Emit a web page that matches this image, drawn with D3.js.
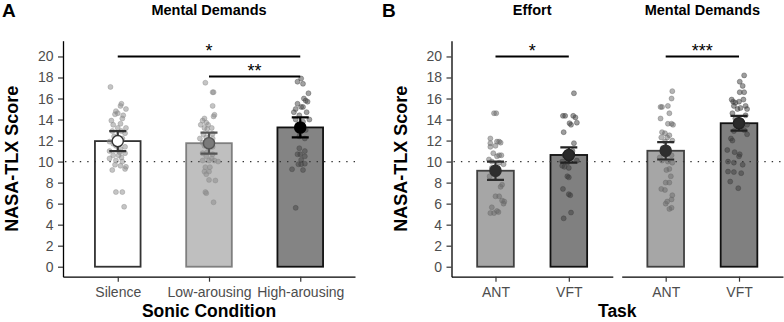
<!DOCTYPE html>
<meta charset="utf-8">
<style>
  body { margin: 0; background: #fff; }
  text { font-family: "Liberation Sans", Arial, sans-serif; }
</style>
<svg width="784" height="322"></svg>
<script src="https://cdn.jsdelivr.net/npm/d3@7"></script>
<script>

// ---- data ----
var soundConditions = ["Silence", "Low-arousing", "High-arousing"];
var soundMeans = [11.95, 11.75, 13.25];
var soundSE = [0.95, 1.0, 0.95];

var tasks = ["ANT", "VFT"];
var effortMeans = [9.13, 10.63];
var effortSE = [0.87, 0.73];
var mentalMeans = [11.03, 13.65];
var mentalSE = [0.83, 0.7];

var yTicks = [0, 2, 4, 6, 8, 10, 12, 14, 16, 18, 20];
var chanceLevel = 10;

// single participants: [score, jitter in category steps]
var silencePts = [[17.1,-0.08],[15.5,0.04],[15.3,0.03],[15.0,0.09],[14.8,-0.02],[14.6,0.0],[14.5,-0.03],
  [14.4,0.06],[14.1,0.05],[13.9,-0.07],[13.6,0.03],[13.5,-0.05],[13.2,0.0],[13.2,0.09],[12.9,-0.06],
  [12.9,0.04],[12.7,0.08],[12.4,-0.04],[12.2,0.05],[11.9,-0.09],[11.7,-0.05],[11.5,-0.02],[11.4,0.08],
  [11.2,0.03],[11.0,-0.09],[10.9,0.02],[10.8,0.08],[10.6,-0.05],[10.6,0.01],[10.4,0.04],[10.3,-0.09],
  [10.1,-0.02],[10.0,0.05],[9.7,-0.03],[9.6,0.03],[9.5,0.09],[9.2,-0.06],[9.3,0.08],[7.1,-0.02],
  [7.1,0.05],[5.7,0.07]];
var lowPts = [[17.5,-0.04],[16.6,0.04],[16.6,0.05],[15.3,0.04],[14.45,0.06],[14.3,0.05],[14.1,-0.05],
  [13.9,-0.07],[13.7,-0.03],[13.5,-0.09],[13.5,-0.01],[13.2,-0.05],[13.1,-0.02],[13.2,0.03],[12.6,-0.06],
  [12.65,0.04],[12.3,-0.03],[12.2,0.04],[12.2,-0.10],[11.8,-0.01],[11.8,-0.07],[11.5,-0.05],[11.4,0.04],
  [10.9,-0.02],[10.8,-0.07],[10.7,0.04],[10.5,-0.03],[10.3,0.03],[10.1,-0.07],[10.1,0.0],[10.1,0.06],
  [10.0,0.10],[9.47,-0.04],[9.47,0.01],[9.05,-0.05],[9.05,0.0],[8.8,-0.03],[8.26,0.0],[8.2,0.07],
  [7.1,-0.04],[7.0,-0.03],[6.13,0.05]];
var highPts = [[17.9,0.01],[17.6,-0.03],[17.4,0.03],[16.5,0.09],[16.0,0.04],[15.8,0.06],[15.7,0.08],
  [15.5,-0.03],[15.2,0.01],[15.2,0.03],[15.0,-0.05],[14.7,-0.07],[14.7,0.07],[14.4,-0.01],[14.0,-0.05],
  [14.0,0.10],[13.8,0.03],[13.2,-0.03],[13.0,0.06],[12.4,-0.01],[12.2,0.05],[11.27,-0.01],[11.0,0.05],
  [10.7,-0.03],[10.7,0.0],[10.5,0.05],[10.16,0.01],[9.75,-0.02],[9.75,0.01],[9.8,0.05],[9.27,-0.09],
  [9.2,0.03],[5.6,-0.05]];

var effortAntPts = [[14.6,-0.02],[14.6,0.01],[12.2,-0.07],[11.9,0.02],[11.9,0.05],[11.8,0.07],[11.75,-0.07],
  [11.5,0.0],[11.4,-0.07],[10.8,-0.03],[10.6,0.05],[10.6,0.08],[10.5,0.02],[10.2,-0.09],[10.0,-0.05],
  [9.9,0.05],[9.75,0.11],[9.4,-0.05],[9.0,0.02],[8.6,-0.08],[7.8,0.09],[7.6,0.07],[6.7,0.0],[6.7,0.05],
  [6.3,0.09],[6.2,0.12],[6.0,0.11],[5.65,-0.05],[5.3,0.02],[5.1,-0.07],[5.1,-0.02],[5.2,0.04]];
var effortVftPts = [[16.5,0.07],[14.35,-0.08],[14.35,-0.05],[14.35,0.06],[14.2,0.09],[13.65,0.01],[13.5,0.03],
  [13.7,0.11],[12.8,-0.07],[11.75,0.07],[11.0,0.05],[10.8,-0.03],[10.6,-0.06],[10.4,0.03],[10.0,-0.09],
  [9.9,-0.02],[10.1,0.11],[9.6,-0.09],[9.5,-0.06],[9.4,0.0],[8.6,-0.02],[8.5,0.0],[7.4,-0.08],[6.9,0.0],
  [6.8,0.02],[5.15,0.03],[4.6,-0.07]];
var mentalAntPts = [[16.7,0.09],[16.0,0.08],[15.2,-0.07],[15.2,-0.05],[15.3,0.03],[14.1,-0.07],[14.6,0.05],
  [13.6,0.08],[13.5,0.1],[13.6,0.03],[12.8,-0.05],[12.7,-0.01],[12.5,0.05],[12.3,-0.06],[12.3,0.02],
  [11.9,-0.01],[12.0,0.09],[11.3,-0.04],[10.6,0.08],[10.4,-0.08],[10.1,-0.05],[10.0,0.03],[9.9,0.09],
  [9.3,0.05],[9.2,0.01],[8.6,0.07],[8.0,0.0],[8.0,0.05],[7.4,-0.06],[7.3,-0.01],[6.8,0.09],[6.2,0.02],
  [6.0,0.0],[6.4,0.08],[5.6,0.08],[5.5,0.05]];
var mentalVftPts = [[18.2,0.07],[17.6,0.01],[17.2,0.05],[16.6,0.01],[16.6,0.07],[15.9,-0.1],[15.7,-0.08],
  [15.6,-0.05],[15.7,0.0],[15.9,0.06],[15.3,0.09],[15.3,-0.07],[15.0,-0.02],[15.1,0.02],[15.0,0.11],
  [14.6,-0.09],[14.4,0.09],[14.1,-0.05],[13.5,0.11],[13.0,0.07],[12.9,-0.07],[12.6,0.11],[12.2,-0.11],
  [12.0,-0.09],[11.1,-0.16],[10.9,-0.06],[10.7,0.01],[10.5,0.0],[10.0,-0.15],[9.9,-0.07],[9.7,0.05],
  [9.05,-0.15],[9.0,-0.07],[8.9,0.03],[8.1,-0.12],[7.47,-0.01]];

var soundSig = [["Silence", "High-arousing", 20, "*"], ["Low-arousing", "High-arousing", 18.1, "**"]];
var effortSig = [["ANT", "VFT", 20, "*"]];
var mentalSig = [["ANT", "VFT", 20, "***"]];

// ---- looks ----
var soundLook = [
  {fill: "#ffffff", stroke: "#333333", pt: "#8a8a8a", mean: "#ffffff", err: "#333333"},
  {fill: "#bfbfbf", stroke: "#7f7f7f", pt: "#8a8a8a", mean: "#7a7a7a", err: "#555555"},
  {fill: "#848484", stroke: "#111111", pt: "#444444", mean: "#000000", err: "#000000"}];
var taskLook = [
  {fill: "#a6a6a6", stroke: "#404040", pt: "#6a6a6a", mean: "#2e2e2e", err: "#2e2e2e"},
  {fill: "#808080", stroke: "#111111", pt: "#3c3c3c", mean: "#2a2a2a", err: "#222222"}];

var svg = d3.select("svg");
var y = d3.scaleLinear().domain([-0.95, 21.5]).range([276.7, 40.7]);

function facet(x0, x1, cats, means, se, pts, sig, look, title, withY) {
  var x = d3.scalePoint().domain(cats).range([x0, x1]).padding(0.6);
  var step = x.step(), bw = step / 2;
  var g = svg.append("g");

  g.selectAll("rect").data(cats).join("rect")
      .attr("x", d => x(d) - bw / 2)
      .attr("width", bw)
      .attr("y", (d, i) => y(means[i]))
      .attr("height", (d, i) => y(0) - y(means[i]))
      .attr("fill", (d, i) => look[i].fill)
      .attr("stroke", (d, i) => look[i].stroke)
      .attr("stroke-width", 1.8);

  g.append("line")
      .attr("x1", x0 + 2).attr("x2", x1)
      .attr("y1", y(chanceLevel)).attr("y2", y(chanceLevel))
      .attr("stroke", "#333").attr("stroke-width", 1.4)
      .attr("stroke-dasharray", "1.4 6");

  cats.forEach(function(c, i) {
    g.append("g").selectAll("circle").data(pts[i]).join("circle")
        .attr("cx", d => x(c) + d[1] * step)
        .attr("cy", d => y(d[0]))
        .attr("r", 2.5)
        .attr("fill", look[i].pt).attr("fill-opacity", 0.5)
        .attr("stroke", look[i].pt).attr("stroke-opacity", 0.55).attr("stroke-width", 0.7);
  });

  // error bars (mean +/- se)
  cats.forEach(function(c, i) {
    var cx = x(c), lo = y(means[i] - se[i]), hi = y(means[i] + se[i]);
    var p = d3.path();
    p.moveTo(cx, lo); p.lineTo(cx, hi);
    p.moveTo(cx - 8.5, lo); p.lineTo(cx + 8.5, lo);
    p.moveTo(cx - 8.5, hi); p.lineTo(cx + 8.5, hi);
    g.append("path").attr("d", p.toString())
        .attr("fill", "none").attr("stroke", look[i].err).attr("stroke-width", 2.2);
  });

  g.selectAll("circle.mean").data(cats).join("circle")
      .attr("class", "mean")
      .attr("cx", d => x(d))
      .attr("cy", (d, i) => y(means[i]))
      .attr("r", 5.6)
      .attr("fill", (d, i) => look[i].mean)
      .attr("stroke", (d, i) => look[i].err)
      .attr("stroke-width", 1.4);

  // significance brackets
  sig.forEach(function(s) {
    var yy = y(s[2]);
    g.append("line")
        .attr("x1", x(s[0])).attr("x2", x(s[1]))
        .attr("y1", yy).attr("y2", yy)
        .attr("stroke", "#000").attr("stroke-width", 2);
    g.append("text")
        .attr("x", (x(s[0]) + x(s[1])) / 2).attr("y", yy + 1)
        .attr("text-anchor", "middle")
        .style("font-size", "18px")
        .text(s[3]);
  });

  // axes
  var xa = g.append("g")
      .attr("transform", "translate(0," + y.range()[0] + ")")
      .call(d3.axisBottom(x).tickSize(5).tickSizeOuter(0).tickPadding(5));
  var axes = [xa];
  if (withY) {
    var ya = g.append("g")
        .attr("transform", "translate(" + x0 + ",0)")
        .call(d3.axisLeft(y).tickValues(yTicks).tickSize(5).tickSizeOuter(0).tickPadding(4.5));
    axes.push(ya);
  }
  axes.forEach(function(a) {
    a.select(".domain").attr("stroke", "#000").attr("stroke-width", 1.3);
    a.selectAll(".tick line").attr("stroke", "#333").attr("stroke-width", 1.2);
    a.selectAll(".tick text")
        .attr("fill", "#4d4d4d")
        .style("font-size", "14px")
        .style("font-family", '"Liberation Sans", Arial, sans-serif');
  });

  svg.append("text")
      .attr("x", (x0 + x1) / 2).attr("y", 15)
      .attr("text-anchor", "middle")
      .style("font-size", "14.5px").style("font-weight", "bold")
      .text(title);
}

facet(63, 355, soundConditions, soundMeans, soundSE, [silencePts, lowPts, highPts],
      soundSig, soundLook, "Mental Demands", true);
facet(451.5, 612.8, tasks, effortMeans, effortSE, [effortAntPts, effortVftPts],
      effortSig, taskLook, "Effort", true);
facet(621.7, 783, tasks, mentalMeans, mentalSE, [mentalAntPts, mentalVftPts],
      mentalSig, taskLook, "Mental Demands", false);

// panel letters and axis titles
[["A", 2], ["B", 382]].forEach(function(t) {
  svg.append("text").attr("x", t[1]).attr("y", 17)
      .style("font-size", "19px").style("font-weight", "bold").text(t[0]);
});

[18, 406.5].forEach(function(px) {
  svg.append("text")
      .attr("transform", "translate(" + px + ",158.7) rotate(-90)")
      .attr("text-anchor", "middle")
      .style("font-size", "18px").style("font-weight", "bold")
      .text("NASA-TLX Score");
});

[["Sonic Condition", 209], ["Task", 617.3]].forEach(function(t) {
  svg.append("text").attr("x", t[1]).attr("y", 316.5)
      .attr("text-anchor", "middle")
      .style("font-size", "17.5px").style("font-weight", "bold")
      .text(t[0]);
});

</script>
